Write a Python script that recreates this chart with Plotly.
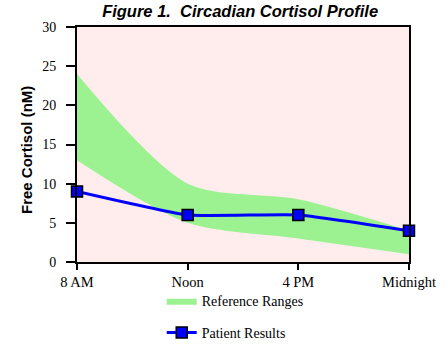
import plotly.graph_objects as go

times = ["8 AM", "Noon", "4 PM", "Midnight"]
x_pos = [0, 1, 2, 3]
ref_upper = [24, 10, 8, 4]
ref_lower = [13, 5, 3, 1]
patient = [9, 6, 6, 4]

fig = go.Figure()
fig.add_trace(go.Scatter(
    x=x_pos, y=ref_lower, mode="lines", line=dict(width=0, shape="spline", smoothing=0.8),
    showlegend=False, hoverinfo="skip"))
fig.add_trace(go.Scatter(
    x=x_pos, y=ref_upper, mode="lines", fill="tonexty", fillcolor="#9CF291",
    line=dict(width=0, shape="spline", smoothing=0.8, color="#9CF291"),
    name="Reference Ranges", legend="legend"))
fig.add_trace(go.Scatter(
    x=x_pos, y=patient, mode="lines+markers", name="Patient Results", legend="legend2",
    line=dict(color="#0000FF", width=3, shape="spline", smoothing=0.4),
    marker=dict(symbol="square", size=11, color="#0000FF", line=dict(color="black", width=1.5)),
    cliponaxis=False))

leg_font = dict(family="Liberation Serif", size=14, color="black")
fig.update_layout(
    width=448, height=353,
    margin=dict(l=77, r=39, t=27, b=91, autoexpand=False),
    paper_bgcolor="white", plot_bgcolor="#FFECEC",
    title=dict(text="<b><i>Figure 1.  Circadian Cortisol Profile</i></b>",
               font=dict(family="Liberation Sans, Arial", size=16.5, color="black"),
               x=0.536, xanchor="center", y=0.985, yanchor="top"),
    font=dict(family="Liberation Serif, Times New Roman", size=14, color="black"),
    legend=dict(x=0.361, y=0.147, xref="container", yref="container",
                xanchor="left", yanchor="middle",
                font=leg_font, bgcolor="rgba(0,0,0,0)"),
    legend2=dict(x=0.361, y=0.057, xref="container", yref="container",
                 xanchor="left", yanchor="middle",
                 font=leg_font, bgcolor="rgba(0,0,0,0)"),
    showlegend=True,
    annotations=[dict(text="<b>Free Cortisol (nM)</b>", textangle=-90, showarrow=False,
                      xref="paper", yref="paper", x=-0.1506, y=0.4766,
                      xanchor="center", yanchor="middle",
                      font=dict(family="Liberation Sans, Arial", size=15, color="black"))],
)
fig.update_xaxes(range=[0, 3], tickvals=x_pos, ticktext=times, showgrid=False, zeroline=False,
                 showline=True, linecolor="black", linewidth=2, mirror=True,
                 ticks="outside", ticklen=6, tickcolor="black", tickwidth=2,
                 tickfont=dict(size=14.5))
fig.update_yaxes(range=[0, 30], dtick=5, showgrid=False, zeroline=False,
                 showline=True, linecolor="black", linewidth=2, mirror=True,
                 ticks="outside", ticklen=9, tickcolor="black", tickwidth=2,
                 ticksuffix="\u00a0\u00a0", tickfont=dict(size=14))
fig.write_html("out.html")
